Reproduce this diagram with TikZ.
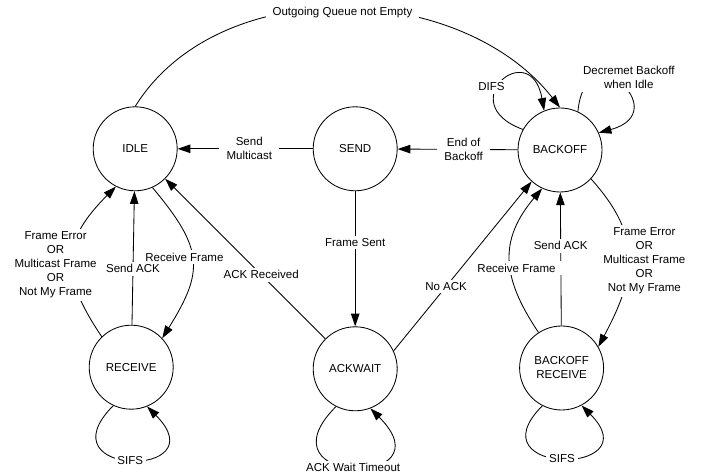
\documentclass[tikz,border=0pt]{standalone}
\usepackage{fontspec}
\setmainfont{Liberation Sans}
\usetikzlibrary{arrows.meta}

\tikzstyle{stnode} = [draw, circle, align = center, minimum size = 2.1cm, inner sep = 0pt, line width = 0.6pt]
\tikzstyle{lbl} = [fill = white, align = center, inner xsep = 5pt, inner ysep = 2pt]
\tikzstyle{arr} = [-{Triangle[length = 9pt, width = 6pt]}, line width = 0.6pt]

\begin{document}
\begin{tikzpicture}[font = \fontsize{8.2}{10}\selectfont]
	\useasboundingbox (0, 0) rectangle (17.7, 11.9);

	\node [stnode] at (3.38, 8.18) (idle) {IDLE};
	\node [stnode] at (8.88, 8.18) (send) {SEND};
	\node [stnode] at (14.0, 8.15) (backoff) {BACKOFF};
	\node [stnode] at (3.28, 2.72) (receive) {RECEIVE};
	\node [stnode] at (8.88, 2.68) (ackwait) {ACKWAIT};
	\node [stnode] at (14.04, 2.7) (bkrecv) {BACKOFF\\RECEIVE};

	% top row
	\draw [arr] (idle.north) to [out = 58, in = 128, looseness = 0.96] node [lbl, yshift = -0.08cm] {Outgoing Queue not Empty} (backoff.north);
	\draw [arr] (send) -- node [lbl, pos = 0.47] {Send\\Multicast} (idle);
	\draw [arr] (backoff) -- node [lbl, pos = 0.45] {End of\\Backoff} (send);
	\draw [arr] (backoff.151) to [out = 160, in = 100, looseness = 6.9] node [lbl, pos = 0.4, inner xsep = 2pt, xshift = -0.1cm, yshift = 0.08cm] {DIFS} (backoff.112);
	\draw [arr] (backoff.65) to [out = 85, in = 15, looseness = 6.9] node [lbl, inner xsep = 2pt, xshift = 0.22cm, yshift = 0.17cm] {Decremet Backoff\\when Idle} (backoff.24);

	% middle column
	\draw [arr] (send) -- node [lbl, pos = 0.38] {Frame Sent} (ackwait);
	\draw [arr] (ackwait) -- node [lbl, pos = 0.4] {ACK Received} (idle);
	\draw [arr] (ackwait.25) -- node [lbl, pos = 0.38] {No ACK} (backoff.228);
	\draw [arr] (ackwait.243) to [out = 225, in = 315, looseness = 8.4] node [lbl, inner xsep = 2pt] {ACK Wait Timeout} (ackwait.291);

	% left column
	\draw [arr] (receive) -- node [lbl, pos = 0.42] {Send ACK} (idle);
	\draw [arr] (receive.134) to [out = 124, in = 225, looseness = 1.3] node [lbl, xshift = -0.42cm, yshift = -0.17cm] {Frame Error\\OR\\Multicast Frame\\OR\\Not My Frame} (idle.243);
	\draw [arr] (idle.294) to [out = -50, in = 58, looseness = 1.35] node [lbl, xshift = -0.2cm, yshift = 0.08cm] {Receive Frame} (receive.43);
	\draw [arr] (receive.245) to [out = 225, in = 315, looseness = 7.7] node [lbl, inner xsep = 2pt] {SIFS} (receive.292);

	% right column
	\draw [arr] (bkrecv) -- node [lbl, pos = 0.6] {Send ACK} (backoff);
	\draw [arr] (bkrecv.123) to [out = 124, in = 230, looseness = 1.19] node [lbl, pos = 0.43, xshift = 0.15cm] {Receive Frame} (backoff.245);
	\draw [arr] (backoff.317) to [out = -48, in = 62, looseness = 1.2] node [lbl, xshift = 0.4cm, yshift = -0.05cm] {Frame Error\\OR\\Multicast Frame\\OR\\Not My Frame} (bkrecv.30);
	\draw [arr] (bkrecv.243) to [out = 225, in = 315, looseness = 6.5] node [lbl, inner xsep = 2pt] {SIFS} (bkrecv.298);
\end{tikzpicture}
\end{document}
